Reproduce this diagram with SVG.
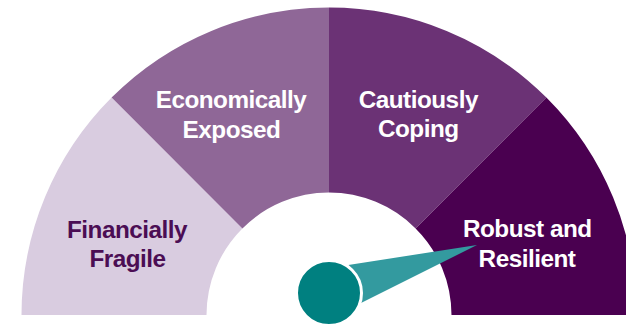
<svg xmlns="http://www.w3.org/2000/svg" width="626" height="326" viewBox="0 0 626 326">
<style>
.lbl{font-family:"Liberation Sans",Arial,sans-serif;font-weight:700;font-size:24.3px;letter-spacing:-0.5px;text-anchor:middle}
.w{fill:#ffffff}
.d{fill:#4B0D54}
</style>
<rect width="626" height="326" fill="#ffffff"/>
<g id="financially-fragile">
<path d="M21.5 315 A307.5 307.5 0 0 1 111.6 97.6 L242.4 228.4 A122.5 122.5 0 0 0 206.5 315 Z" fill="#D9CCE0"/>
<text class="lbl d" x="127" y="238">Financially</text>
<text class="lbl d" x="127.5" y="267">Fragile</text>
</g>
<g id="economically-exposed">
<path d="M111.6 97.6 A307.5 307.5 0 0 1 329 7.5 L329 192.5 A122.5 122.5 0 0 0 242.4 228.4 Z" fill="#8F6797"/>
<text class="lbl w" x="231" y="107.5">Economically</text>
<text class="lbl w" x="231.5" y="137.5">Exposed</text>
</g>
<g id="cautiously-coping">
<path d="M329 7.5 A307.5 307.5 0 0 1 546.4 97.6 L415.6 228.4 A122.5 122.5 0 0 0 329 192.5 Z" fill="#6B3275"/>
<text class="lbl w" x="418.3" y="107.5">Cautiously</text>
<text class="lbl w" x="418.3" y="137">Coping</text>
</g>
<g id="robust-and-resilient">
<path d="M546.4 97.6 A307.5 307.5 0 0 1 636.5 315 L451.5 315 A122.5 122.5 0 0 0 415.6 228.4 Z" fill="#4A0050"/>
<text class="lbl w" x="527.3" y="237">Robust and</text>
<text class="lbl w" x="527" y="267">Resilient</text>
</g>
<g id="needle">
<polygon points="477,245 329,268 329,319" fill="#339A9F"/>
<circle cx="329" cy="293" r="32.5" fill="#008080" stroke="#ffffff" stroke-width="3"/>
</g>
</svg>
